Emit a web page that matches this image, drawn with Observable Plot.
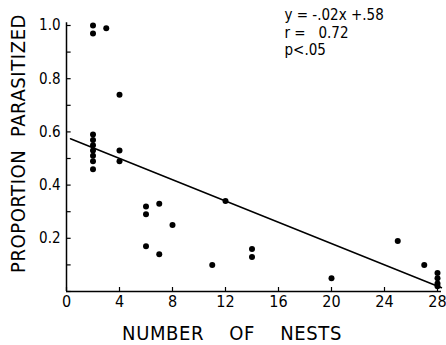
<!DOCTYPE html>
<html>
<head>
<meta charset="utf-8">
<script src="https://cdn.jsdelivr.net/npm/d3@7"></script>
<script src="https://cdn.jsdelivr.net/npm/@observablehq/plot@0.6"></script>
<style>
  html, body { margin: 0; padding: 0; background: #fff; }
  svg g[font-size="20"] { letter-spacing: 0.6px; }
</style>
</head>
<body>
<div id="chart"></div>
<script>
// Data
const nests = [2, 2, 2, 2, 2, 2, 2, 2, 2, 3, 4, 4, 4, 6, 6, 6, 7, 7, 8, 11, 12, 14, 14, 20, 25, 27, 28, 28, 28, 28];
const parasitized = [1.0, 0.97, 0.59, 0.57, 0.55, 0.53, 0.51, 0.49, 0.46, 0.99, 0.74, 0.53, 0.49, 0.32, 0.29, 0.17, 0.33, 0.14, 0.25, 0.10, 0.34, 0.16, 0.13, 0.05, 0.19, 0.10, 0.07, 0.05, 0.03, 0.02];

// Regression line y = -.02x + .58, drawn over this x extent
const slope = -0.02;
const intercept = 0.58;
const fitX = [0.3, 28.3];

const xTicks = [0, 4, 8, 12, 16, 20, 24, 28];
const yMinorTicks = [0, 0.1, 0.2, 0.3, 0.4, 0.5, 0.6, 0.7, 0.8, 0.9, 1.0];
const yLabels = [0.2, 0.4, 0.6, 0.8, 1.0];

const xTitle = "NUMBER\u00a0\u00a0\u00a0\u00a0OF\u00a0\u00a0\u00a0\u00a0NESTS";
const yTitle = "PROPORTION\u00a0\u00a0PARASITIZED";
const statsLines = ["y = -.02x +.58", "r = \u00a0 0.72", "p<.05"];

const points = nests.map((x, i) => ({x, y: parasitized[i]}));
const fit = fitX.map(x => ({x, y: slope * x + intercept}));

const chart = Plot.plot({
  width: 446,
  height: 345,
  marginLeft: 66,
  marginRight: 9,
  marginTop: 25,
  marginBottom: 54,
  x: {domain: [0, 28], label: null},
  y: {domain: [0, 1], label: null},
  style: {
    fontFamily: "'DejaVu Sans Condensed', 'DejaVu Sans', sans-serif",
    color: "black",
    background: "white"
  },
  marks: [
    // axis lines
    Plot.ruleY([0], {x1: 0, x2: 28.3, stroke: "black", strokeWidth: 1.5}),
    Plot.ruleX([0], {y1: 0, y2: 1.01, stroke: "black", strokeWidth: 1.5}),
    // inward ticks
    Plot.ruleY(yMinorTicks, {x1: 0, x2: 0.35, stroke: "black", strokeWidth: 1.2}),
    Plot.ruleX(xTicks, {y1: 0, y2: 0.015, stroke: "black", strokeWidth: 1.2}),
    // tick labels
    Plot.axisY(yLabels, {tickSize: 0, tickPadding: 6, fontSize: 15, label: null, tickFormat: d => d.toFixed(1)}),
    Plot.axisX(xTicks, {tickSize: 0, tickPadding: 4, fontSize: 16, label: null}),
    // axis titles
    Plot.text([xTitle], {frameAnchor: "bottom", dx: -20, dy: 48, lineAnchor: "bottom", fontSize: 20}),
    Plot.text([yTitle], {frameAnchor: "left", textAnchor: "middle", dx: -48, dy: -15, rotate: -90, fontSize: 20}),
    // regression line
    Plot.line(fit, {x: "x", y: "y", stroke: "black", strokeWidth: 1.5}),
    // points
    Plot.dot(points, {x: "x", y: "y", r: 3, fill: "black", stroke: "none"}),
    // stats annotation
    Plot.text([statsLines.join("\n")], {
      frameAnchor: "top-left",
      dx: 218,
      dy: -18,
      textAnchor: "start",
      lineAnchor: "top",
      lineHeight: 1.17,
      fontSize: 15
    })
  ]
});
document.getElementById("chart").appendChild(chart);
</script>
</body>
</html>
